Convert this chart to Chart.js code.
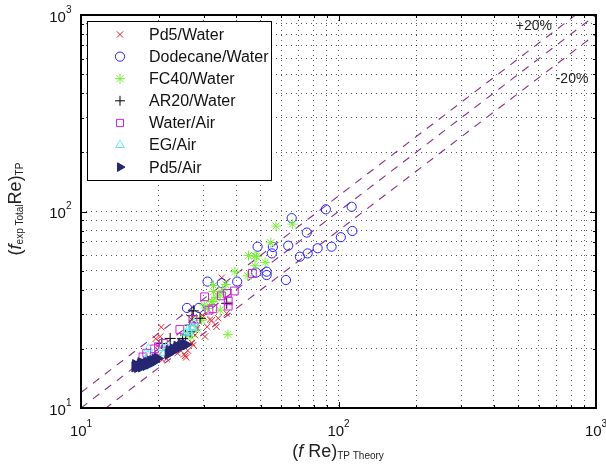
<!DOCTYPE html>
<html>
<head>
<meta charset="utf-8">
<script src="https://cdn.jsdelivr.net/npm/chart.js@4.4.0/dist/chart.umd.min.js"></script>
<style>
  body { margin: 0; background: #fff; }
  canvas { display: block; }
</style>
</head>
<body>
<canvas id="myChart" width="606" height="467"></canvas>
<script>
// series names, in legend order
const seriesNames = ['Pd5/Water', 'Dodecane/Water', 'FC40/Water', 'AR20/Water', 'Water/Air', 'EG/Air', 'Pd5/Air'];

// [ (f Re) theory, (f Re) experiment ]
const pd5Water = [[20.5,25.8],[19.5,22.5],[19.8,20.7],[20.3,23.1],[21.5,17.8],[20.7,17.6],[20.0,18.6],[18.0,17.6],
  [23.7,19.0],[25.2,18.8],[25.6,18.1],[25.4,18.4],[26.0,19.6],[27.3,20.9],[27.0,21.4],[30.3,23.1],[27.7,23.5],
  [30.9,25.9],[33.6,25.9],[32.2,27.9],[34.1,28.6],[36.8,30.3],[26.9,28.2],[29.9,29.2],[31.7,28.2],[28.2,25.5],[35.2,46.0]];
const dodecaneWater = [[25.8,32.3],[28.7,32.3],[31.0,44.0],[35.2,43.2],[40.4,44.0],[47.9,48.9],[52.6,49.4],[52.6,47.5],
  [62.5,44.8],[48.5,66.2],[55.1,61.2],[55.6,66.0],[63.8,67.0],[65.8,92.5],[70.8,58.9],[75.9,61.2],[75.3,78.1],[83.0,65.0],
  [94.0,66.2],[89.3,102.6],[102.1,74.0],[112.5,105.7],[113.2,79.6]];
const fc40Water = [[57.2,84.3],[66.2,86.3],[54.6,69.3],[47.4,59.4],[44.7,59.6],[48.1,58.9],[51.9,55.1],[47.4,52.9],
  [39.6,49.4],[44.4,47.1],[35.5,39.8],[32.7,39.1],[32.5,34.7],[31.0,32.1],[34.7,37.6],[32.1,34.8],[30.1,33.4],[34.7,31.5],
  [29.4,28.0],[28.1,25.0],[26.7,23.1],[37.2,23.7],[32.7,42.0],[36.5,42.5],[33.5,36.5]];
const ar20Water = [[27.3,31.2],[29.0,28.6],[22.2,22.6],[24.8,22.6],[26.5,24.4],[26.5,26.4],[36.8,34.1],[20.6,21.3],
  [27.0,29.5],[25.5,23.5]];
const waterAir = [[24.2,25.1],[27.2,28.3],[30.2,36.8],[31.4,31.5],[32.5,32.0],[35.1,37.2],[37.0,38.3],[39.4,39.4],
  [37.3,35.1],[37.3,33.0],[46.3,48.4],[20.9,21.3],[20.0,20.5],[19.3,20.0],[18.0,19.0],[17.4,18.2],[27.5,26.0]];
const egAir = [[16.5,16.4],[17.0,16.6],[17.5,16.2],[18.0,16.5],[18.5,16.9],[17.8,17.5],[18.2,18.5],[18.3,20.1],
  [19.0,17.5],[20.7,20.2],[21.5,20.5],[21.0,19.0],[25.5,24.0],[26.3,24.3],[26.9,25.9],[27.2,25.5],[26.0,25.0],[27.5,27.0]];
const pd5Air = [[16.2,16.2],[16.5,16.4],[16.8,16.3],[17.0,16.6],[17.3,16.5],[17.5,16.8],[17.8,16.7],[18.0,17.0],
  [18.3,17.0],[18.6,17.3],[19.0,17.4],[19.4,17.7],[19.8,17.9],[16.6,16.1],[17.2,16.2],[17.9,16.5],[18.5,16.8],
  [19.2,17.2],[16.3,16.6],[17.1,17.0],[21.8,18.8],[22.2,19.2],[22.6,19.5],[23.0,19.7],[23.4,20.0],[23.8,20.2],
  [24.3,20.5],[24.8,20.8],[25.3,21.0],[22.0,19.6],[22.8,20.0],[23.6,20.6],[24.5,21.2],[25.6,21.0]];

// +20%, exact and -20% lines
const plusLine = [[10, 12], [1000, 1200]];
const exactLine = [[10, 10], [1000, 1000]];
const minusLine = [[10, 8], [1000, 800]];
const notes = [['+20%', 574, 879], ['-20%', 807, 472]];

const axisMin = 10, axisMax = 1000;
const gridValues = [10,20,30,40,50,60,70,80,90,100,200,300,400,500,600,700,800,900,1000];
const tickValues = [10, 100, 1000];
const tickExps = ['1', '2', '3'];

const pts = arr => arr.map(p => ({x: p[0], y: p[1]}));
const FONT = '"Liberation Sans", Arial, sans-serif';

const marker = (label, data, style, color, opts) => Object.assign({
  label: label, data: pts(data), pointStyle: style, pointRadius: 4, pointBorderWidth: 1,
  borderColor: color, backgroundColor: 'rgba(0,0,0,0)', pointHoverRadius: 4
}, opts || {});

const refLine = data => ({
  type: 'line', data: pts(data), borderColor: '#8a2f8a', borderWidth: 1.1, borderDash: [8, 7],
  pointRadius: 0, fill: false, order: 20, isRef: true
});

function drawRich(ctx, parts, x, y, align, rotate) {
  ctx.save();
  ctx.translate(x, y);
  if (rotate) ctx.rotate(-Math.PI / 2);
  let total = 0;
  parts.forEach(p => { ctx.font = p.font; p.w = ctx.measureText(p.text).width; total += p.w; });
  let cx = align === 'center' ? -total / 2 : (align === 'right' ? -total : 0);
  ctx.textAlign = 'left';
  ctx.textBaseline = 'alphabetic';
  parts.forEach(p => { ctx.font = p.font; ctx.fillText(p.text, cx, p.dy || 0); cx += p.w; });
  ctx.restore();
}

const decor = {
  id: 'decor',
  afterDraw(chart) {
    const ctx = chart.ctx, a = chart.chartArea;
    const xs = chart.scales.x, ys = chart.scales.y;
    ctx.save();
    // inner ticks
    ctx.strokeStyle = '#000';
    ctx.lineWidth = 1;
    gridValues.forEach(v => {
      const len = tickValues.indexOf(v) >= 0 ? 6 : 3;
      const px = Math.round(xs.getPixelForValue(v)) + 0.5;
      const py = Math.round(ys.getPixelForValue(v)) + 0.5;
      ctx.beginPath();
      ctx.moveTo(px, a.bottom); ctx.lineTo(px, a.bottom - len);
      ctx.moveTo(px, a.top); ctx.lineTo(px, a.top + len);
      ctx.moveTo(a.left, py); ctx.lineTo(a.left + len, py);
      ctx.moveTo(a.right, py); ctx.lineTo(a.right - len, py);
      ctx.stroke();
    });
    // box
    ctx.lineWidth = 2;
    ctx.strokeRect(a.left, a.top, a.right - a.left, a.bottom - a.top);

    // tick labels
    ctx.fillStyle = '#111';
    tickValues.forEach((v, i) => {
      const parts = [{text: '10', font: '15px ' + FONT}, {text: tickExps[i], font: '10px ' + FONT, dy: -9}];
      drawRich(ctx, parts, xs.getPixelForValue(v), 436, 'center');
      const parts2 = [{text: '10', font: '15px ' + FONT}, {text: tickExps[i], font: '10px ' + FONT, dy: -9}];
      drawRich(ctx, parts2, 71.5, ys.getPixelForValue(v) + 6.5, 'right');
    });

    // axis titles
    ctx.fillStyle = '#222';
    drawRich(ctx, [
      {text: '(', font: '18px ' + FONT},
      {text: 'f', font: 'italic 18px ' + FONT},
      {text: ' Re)', font: '18px ' + FONT},
      {text: 'TP Theory', font: '10px ' + FONT, dy: 2}
    ], 338, 457, 'center');
    drawRich(ctx, [
      {text: '(', font: '18px ' + FONT},
      {text: 'f', font: 'italic 18px ' + FONT},
      {text: 'exp Total', font: '10px ' + FONT, dy: 2},
      {text: 'Re', font: '18px ' + FONT},
      {text: ')', font: '18px ' + FONT},
      {text: 'TP', font: '10px ' + FONT, dy: 2}
    ], 21, 209, 'center', true);

    // +-20% notes
    ctx.font = '14px ' + FONT;
    ctx.textAlign = 'center';
    ctx.textBaseline = 'middle';
    notes.forEach(n => ctx.fillText(n[0], xs.getPixelForValue(n[1]), ys.getPixelForValue(n[2])));

    // legend
    const lx = 87, ly = 21, lw = 184, lh = 159;
    ctx.fillStyle = '#fff';
    ctx.fillRect(lx, ly, lw, lh);
    ctx.lineWidth = 1;
    ctx.strokeStyle = '#000';
    ctx.strokeRect(lx + 0.5, ly + 0.5, lw, lh);
    chart.data.datasets.forEach((ds, i) => {
      if (ds.isRef) return;
      const y = 34.5 + i * 22.1;
      ctx.strokeStyle = ds.borderColor;
      ctx.fillStyle = ds.backgroundColor;
      ctx.lineWidth = ds.pointBorderWidth;
      Chart.helpers.drawPoint(ctx, {pointStyle: ds.pointStyle, radius: Math.min(ds.pointRadius, 5),
        rotation: ds.pointRotation || 0, borderWidth: ds.pointBorderWidth}, 120, y);
      ctx.fillStyle = '#111';
      ctx.font = '16px ' + FONT;
      ctx.textAlign = 'left';
      ctx.textBaseline = 'middle';
      ctx.fillText(ds.label, 149, y + 1);
    });
    ctx.restore();
  }
};

const gridOpts = {
  color: 'rgba(0,0,0,0.65)', lineWidth: 1, drawTicks: false
};

new Chart(document.getElementById('myChart'), {
  type: 'scatter',
  data: {
    datasets: [
      marker(seriesNames[0], pd5Water, 'crossRot', '#e8262a', {pointRadius: 4.5, order: 6}),
      marker(seriesNames[1], dodecaneWater, 'circle', '#2222ff', {pointRadius: 4.6, order: 5}),
      marker(seriesNames[2], fc40Water, 'star', '#78f036', {pointRadius: 5, order: 4}),
      marker(seriesNames[3], ar20Water, 'cross', '#000000', {pointRadius: 5.5, order: 3}),
      marker(seriesNames[4], waterAir, 'rect', '#cc22dd', {pointRadius: 5.5, order: 2}),
      marker(seriesNames[5], egAir, 'triangle', '#66eeee', {pointRadius: 5, order: 1}),
      marker(seriesNames[6], pd5Air, 'triangle', '#262673',
        {pointRadius: 6, pointRotation: 90, backgroundColor: '#262673', order: 0}),
      refLine(plusLine),
      refLine(exactLine),
      refLine(minusLine)
    ]
  },
  options: {
    responsive: false,
    animation: false,
    events: [],
    layout: { padding: { left: 0, top: 15, right: 10, bottom: 0 } },
    plugins: { legend: { display: false }, tooltip: { enabled: false } },
    scales: {
      x: {
        type: 'logarithmic', min: axisMin, max: axisMax,
        afterBuildTicks: s => { s.ticks = gridValues.map(v => ({value: v})); },
        afterFit: s => { s.height = 59; s.paddingLeft = 0; s.paddingRight = 0; },
        ticks: { display: false, autoSkip: false },
        grid: gridOpts,
        border: { display: false, dash: [1, 4] }
      },
      y: {
        type: 'logarithmic', min: axisMin, max: axisMax,
        afterBuildTicks: s => { s.ticks = gridValues.map(v => ({value: v})); },
        afterFit: s => { s.width = 81; s.paddingTop = 0; s.paddingBottom = 0; },
        ticks: { display: false, autoSkip: false },
        grid: gridOpts,
        border: { display: false, dash: [1, 4] }
      }
    }
  },
  plugins: [decor]
});
</script>
</body>
</html>
